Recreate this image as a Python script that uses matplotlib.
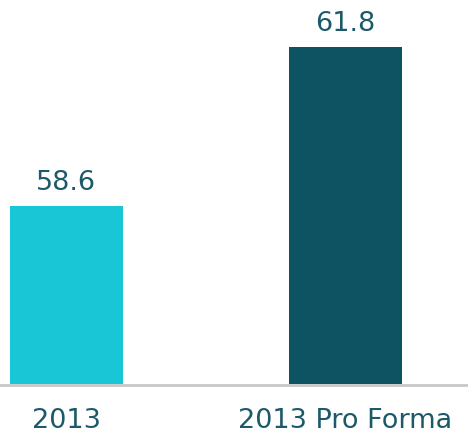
import matplotlib
matplotlib.use("Agg")
import matplotlib.pyplot as plt

categories = ["2013", "2013 Pro Forma"]
values = [58.6, 61.8]
labels = ["58.6", "61.8"]
colors = ["#19c6d6", "#0d5361"]
text_color = "#1c5a69"

plt.rcParams["font.family"] = ["DejaVu Sans"]

fig = plt.figure(figsize=(4.68, 4.34), dpi=100)
ax = fig.add_axes([0, 50/434, 1, 1 - 50/434])
x = list(range(len(categories)))
ax.bar(x, [v - 55 for v in values], bottom=55, width=0.405, color=colors)
ax.set_xlim(-0.238, 1.439)
ax.set_ylim(55, 62.75)
for s in ["top", "right", "left"]:
    ax.spines[s].set_visible(False)
ax.spines["bottom"].set_color("#c8c8c8")
ax.spines["bottom"].set_linewidth(2)
ax.spines["bottom"].set_position(("outward", 1))
ax.set_yticks([])
ax.set_xticks([])
fs = 19.5
for xi, cat in zip(x, categories):
    ax.annotate(cat, (xi, 55), xytext=(0, -31.5), textcoords="offset points",
                ha="center", va="baseline", fontsize=fs, color=text_color,
                annotation_clip=False)
for xi, v, lab in zip(x, values, labels):
    ax.annotate(lab, (xi, v), xytext=(0, 11.5), textcoords="offset points",
                ha="center", va="baseline", fontsize=fs, color=text_color)
fig.savefig("out.png", dpi=100, facecolor="white")
